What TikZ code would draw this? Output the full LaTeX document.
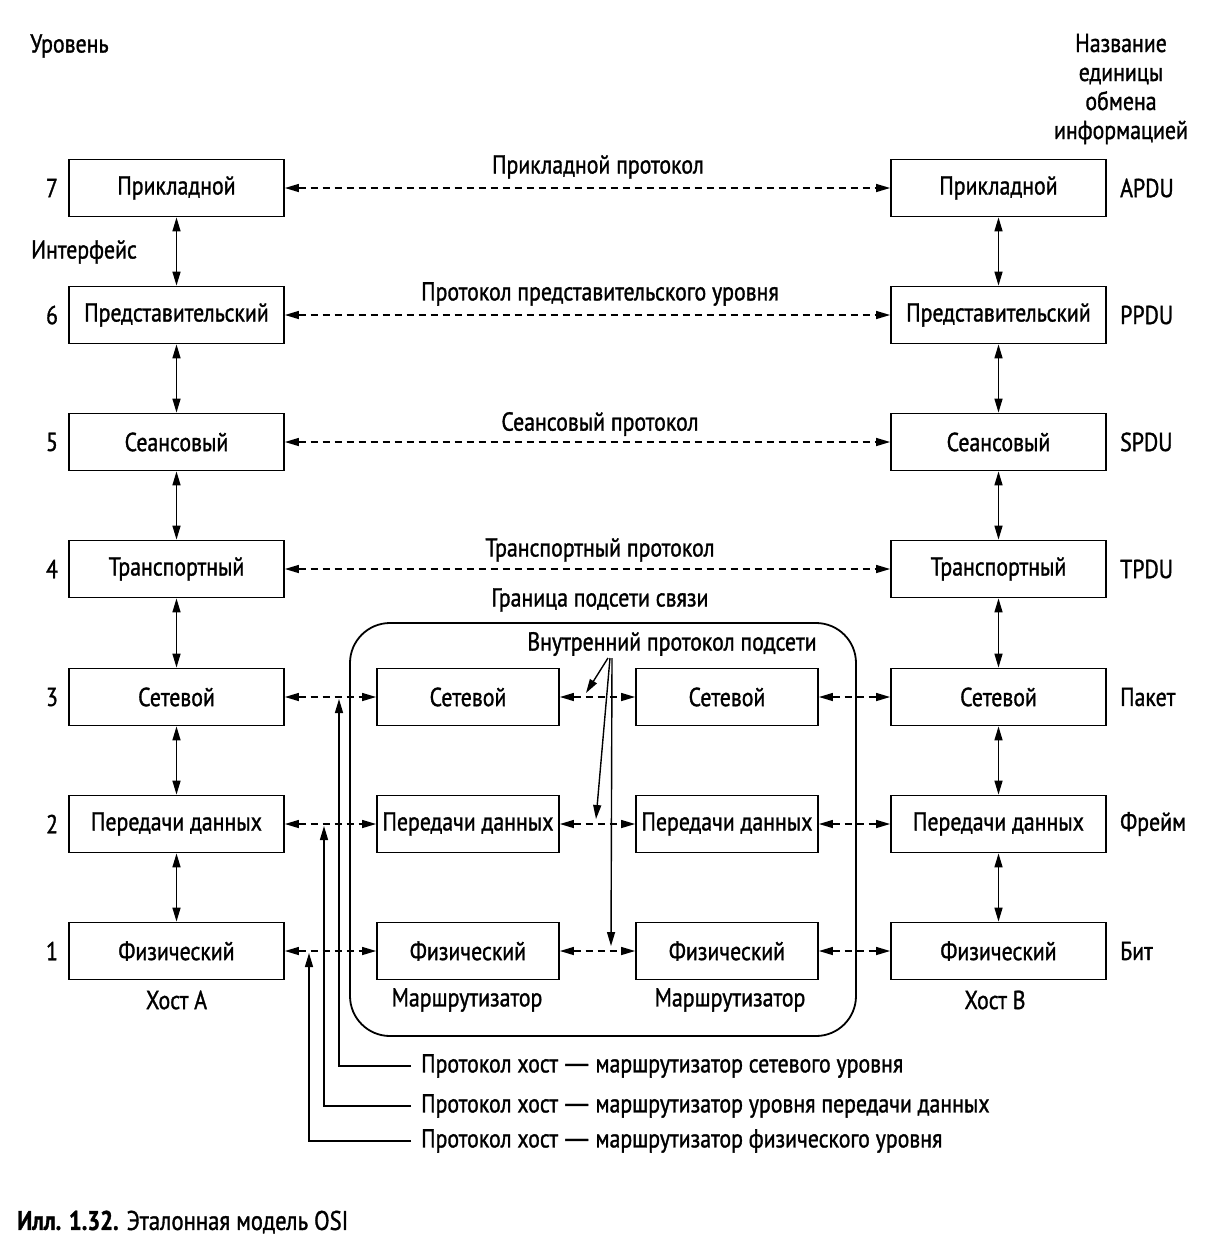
\documentclass[tikz,border=0pt]{standalone}
\usepackage{fontspec}
\setmainfont{PT Sans}[FakeStretch=0.84, FakeBold=1.2]
\usetikzlibrary{arrows.meta}
\newcommand{\longdash}{\hspace{-0.12em}{\addfontfeature{FakeStretch=1.5}—}\hspace{-0.12em}}
\begin{document}
\begin{tikzpicture}[x=1pt,y=-1pt,
  every node/.style={font=\fontsize{26}{29}\selectfont, inner sep=0pt},
  layerbox/.style={draw, line width=1.8pt, minimum width=215pt, minimum height=57pt},
  routerbox/.style={draw, line width=1.8pt, minimum width=182pt, minimum height=57pt},
  tipline/.style={-{Triangle[length=14pt,width=8pt]}, line width=1.4pt},
  dbl/.style={{Triangle[length=14pt,width=8pt]}-{Triangle[length=14pt,width=8pt]}, line width=1.4pt},
  dsh/.style={dbl, dash pattern=on 7pt off 5pt},
]
\useasboundingbox (0,0) rectangle (1212,1248);

% headers
\node[anchor=west] (hdrL) at (30,46) {Уровень};
\node[align=center] (hdrR) at (1121,89) {Название\\единицы\\обмена\\информацией};
\node[anchor=west] (intf) at (31,252) {Интерфейс};

% host A
\node[layerbox] (a7) at (176.5,188) {Прикладной};
\node[layerbox] (a6) at (176.5,315) {Представительский};
\node[layerbox] (a5) at (176.5,442) {Сеансовый};
\node[layerbox] (a4) at (176.5,569) {Транспортный};
\node[layerbox] (a3) at (176.5,697) {Сетевой};
\node[layerbox] (a2) at (176.5,824) {Передачи данных};
\node[layerbox] (a1) at (176.5,951) {Физический};
% host B
\node[layerbox] (b7) at (998.5,188) {Прикладной};
\node[layerbox] (b6) at (998.5,315) {Представительский};
\node[layerbox] (b5) at (998.5,442) {Сеансовый};
\node[layerbox] (b4) at (998.5,569) {Транспортный};
\node[layerbox] (b3) at (998.5,697) {Сетевой};
\node[layerbox] (b2) at (998.5,824) {Передачи данных};
\node[layerbox] (b1) at (998.5,951) {Физический};
% routers
\node[routerbox] (r3) at (468,697) {Сетевой};
\node[routerbox] (r2) at (468,824) {Передачи данных};
\node[routerbox] (r1) at (468,951) {Физический};
\node[routerbox] (s3) at (727,697) {Сетевой};
\node[routerbox] (s2) at (727,824) {Передачи данных};
\node[routerbox] (s1) at (727,951) {Физический};

% subnet boundary
\node[draw, line width=1.8pt, rounded corners=40pt, minimum width=506pt, minimum height=413pt] (subnet) at (603,829.5) {};

% level numbers
\node (n7) at (52,188) {7};
\node (n6) at (52,315) {6};
\node (n5) at (52,442) {5};
\node (n4) at (52,569) {4};
\node (n3) at (52,697) {3};
\node (n2) at (52,824) {2};
\node (n1) at (52,951) {1};

% unit names
\node[anchor=west] (u7) at (1120,188) {APDU};
\node[anchor=west] (u6) at (1120,315) {PPDU};
\node[anchor=west] (u5) at (1120,442) {SPDU};
\node[anchor=west] (u4) at (1120,569) {TPDU};
\node[anchor=west] (u3) at (1120,697) {Пакет};
\node[anchor=west] (u2) at (1120,824) {Фрейм};
\node[anchor=west] (u1) at (1120,951) {Бит};

% protocol labels
\node (l7) at (598,167) {Прикладной протокол};
\node (l6) at (600,294) {Протокол представительского уровня};
\node (l5) at (600,424) {Сеансовый протокол};
\node (l4) at (600,550) {Транспортный протокол};
\node (lsub) at (600,600) {Граница подсети связи};
\node (lint) at (672,644) {Внутренний протокол подсети};

% bottom labels
\node (ha) at (176.5,1000) {Хост А};
\node (ra) at (467,1000) {Маршрутизатор};
\node (rb) at (730,1000) {Маршрутизатор};
\node (hb) at (995,1000) {Хост В};

\node[anchor=west] (p3) at (421,1066) {Протокол хост \longdash{} маршрутизатор сетевого уровня};
\node[anchor=west] (p2) at (421,1106) {Протокол хост \longdash{} маршрутизатор уровня передачи данных};
\node[anchor=west] (p1) at (421,1141) {Протокол хост \longdash{} маршрутизатор физического уровня};

\node[anchor=west, font=\fontsize{27}{30}\selectfont] (cap) at (17,1222) {\textbf{Илл. 1.32.} Эталонная модель OSI};

% vertical interfaces
\foreach \c in {a,b}{
  \draw[dbl] (\c7) -- (\c6);
  \draw[dbl] (\c6) -- (\c5);
  \draw[dbl] (\c5) -- (\c4);
  \draw[dbl] (\c4) -- (\c3);
  \draw[dbl] (\c3) -- (\c2);
  \draw[dbl] (\c2) -- (\c1);
}

% peer protocols
\draw[dsh] (a7) -- (b7);
\draw[dsh] (a6) -- (b6);
\draw[dsh] (a5) -- (b5);
\draw[dsh] (a4) -- (b4);
\foreach \k in {1,2,3}{
  \draw[dsh] (a\k) -- (r\k);
  \draw[dsh] (r\k) -- (s\k);
  \draw[dsh] (s\k) -- (b\k);
}

% internal subnet protocol pointers
\coordinate (is3) at (608,658);
\coordinate (is2) at (610,658);
\coordinate (is1) at (612,658);
\coordinate (it3) at (586,693);
\coordinate (it2) at (596,819);
\coordinate (it1) at (611,946);
\draw[tipline] (is3) -- (it3);
\draw[tipline] (is2) -- (it2);
\draw[tipline] (is1) -- (it1);

% host-router protocol pointers
\coordinate (h3) at (339,699);
\coordinate (h2) at (324,826);
\coordinate (h1) at (309,953);
\draw[tipline] ([xshift=-10pt]p3.west) -| (h3);
\draw[tipline] ([xshift=-10pt]p2.west) -| (h2);
\draw[tipline] ([xshift=-10pt]p1.west) -| (h1);
\end{tikzpicture}
\end{document}
